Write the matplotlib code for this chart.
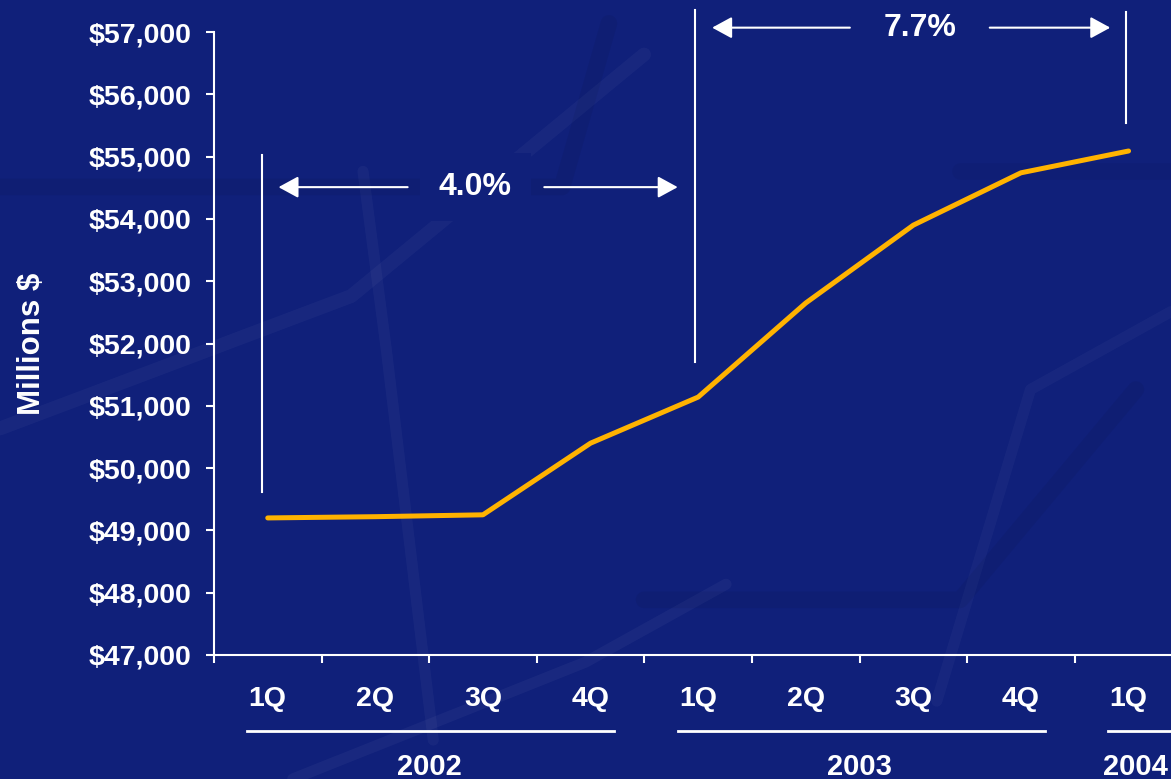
import matplotlib
matplotlib.use("Agg")
import matplotlib.pyplot as plt
from matplotlib.lines import Line2D

# ---- data ----
quarters = ["1Q", "2Q", "3Q", "4Q", "1Q", "2Q", "3Q", "4Q", "1Q"]
years = ["2002", "2003", "2004"]
year_spans = [(0, 3), (4, 7), (8, 8)]
values = [49200, 49220, 49250, 50400, 51140, 52650, 53900, 54740, 55090]
yticks = [47000, 48000, 49000, 50000, 51000, 52000, 53000, 54000, 55000, 56000, 57000]
growth_labels = ["4.0%", "7.7%"]

BG = "#10207A"
FG = "white"
LINE = "#FFB300"

plt.rcParams["font.family"] = ["Liberation Sans", "DejaVu Sans"]
plt.rcParams["font.weight"] = "bold"

fig = plt.figure(figsize=(11.71, 7.79), dpi=100)
fig.patch.set_facecolor(BG)

# faint background streaks (slide texture)
for (xs_, ys_, c, a, w) in [
    ([0.00, 0.30, 0.55], [0.45, 0.62, 0.93], "white", 0.035, 10),
    ([0.31, 0.33, 0.37], [0.78, 0.55, 0.05], "white", 0.035, 8),
    ([0.25, 0.50, 0.62], [0.00, 0.15, 0.25], "white", 0.04, 8),
    ([0.00, 0.48, 0.52], [0.76, 0.76, 0.97], "black", 0.05, 12),
    ([0.80, 0.88, 1.00], [0.10, 0.50, 0.60], "white", 0.03, 8),
    ([0.55, 0.82, 0.97], [0.23, 0.23, 0.50], "black", 0.05, 12),
    ([0.82, 1.00], [0.78, 0.78], "black", 0.04, 12),
]:
    fig.add_artist(Line2D(xs_, ys_, transform=fig.transFigure,
                          color=c, alpha=a, lw=w, zorder=0,
                          solid_capstyle="round", solid_joinstyle="round"))

ax = fig.add_axes([0.1827, 0.1592, 0.827, 0.7997])
ax.set_facecolor("none")

x = list(range(len(values)))
ax.plot(x, values, color=LINE, lw=3.6, solid_capstyle="round", zorder=5)

ax.set_xlim(-0.5, 8.5)
ax.set_ylim(47000, 57000)
ax.set_yticks(yticks)
ax.set_yticklabels([f"${v:,}" for v in yticks])
ax.set_xticks([i + 0.5 for i in range(-1, 9)])
ax.set_xticklabels([])
ax.set_xticks(x, minor=True)
ax.set_xticklabels(quarters, minor=True)

for s in ["top", "right"]:
    ax.spines[s].set_visible(False)
for s in ["left", "bottom"]:
    ax.spines[s].set_color(FG)
    ax.spines[s].set_linewidth(1.5)

ax.tick_params(axis="y", colors=FG, labelsize=20.5, length=6, width=1.5, pad=10)
ax.tick_params(axis="x", which="major", colors=FG, length=6, width=1.5)
ax.tick_params(axis="x", which="minor", colors=FG, length=0, labelsize=20.5, pad=22)

ax.set_ylabel("Millions $", color=FG, fontsize=22.5, fontweight="bold", labelpad=30)

# year underlines and labels
xt = ax.get_xaxis_transform()
for yr, (a, b) in zip(years, year_spans):
    x_end = b + 0.22 if b < 8 else 8.6
    ax.plot([a - 0.19, x_end], [-0.122, -0.122], transform=xt,
            color=FG, lw=2, clip_on=False)
    xs = (a + b) / 2 + (0.06 if a == b else 0)
    ax.text(xs, -0.192, yr, transform=xt, color=FG,
            fontsize=21, fontweight="bold", ha="center", va="baseline", clip_on=False)

# growth brackets
def vline(xv, y0, y1):
    ax.plot([xv, xv], [y0, y1], color=FG, lw=1.5, clip_on=False, zorder=4)

vline(-0.05, 49620, 55020)
vline(3.97, 51700, 57350)
vline(7.98, 55540, 57320)

def double_arrow(xl, xr, xtxt, y, label, gapl, gapr, box=False):
    for tip, tail in [(xl, gapl), (xr, gapr)]:
        ax.annotate("", xy=(tip, y), xytext=(tail, y),
                    arrowprops=dict(arrowstyle="-|>,head_length=0.55,head_width=0.3",
                                    color=FG, lw=1.5,
                                    mutation_scale=22, shrinkA=0, shrinkB=0),
                    annotation_clip=False)
    kw = {}
    if box:
        kw["bbox"] = dict(boxstyle="square,pad=0.6", fc=BG, ec="none")
    ax.text(xtxt, y, label, color=FG, fontsize=23, fontweight="bold",
            ha="center", va="center", clip_on=False, zorder=3, **kw)

double_arrow(0.10, 3.81, 1.93, 54510, growth_labels[0], 1.30, 2.57, box=True)
double_arrow(4.13, 7.83, 6.06, 57070, growth_labels[1], 5.41, 6.71)

fig.savefig("out.png", dpi=100, facecolor=BG)
